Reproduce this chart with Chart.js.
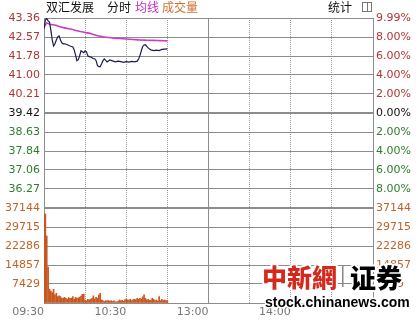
<!DOCTYPE html>
<html>
<head>
<meta charset="utf-8">
<script src="https://cdn.jsdelivr.net/npm/chart.js@4.4.0/dist/chart.umd.min.js"></script>
<style>
  html, body { margin: 0; padding: 0; background: #fff; }
</style>
</head>
<body>
<canvas id="fenshi" width="418" height="320"></canvas>
<script>
// minutes since 09:30 (trading minutes, 13:00 = 120)
var priceMinutes = [0, 1, 2, 3, 4, 5, 6, 7, 8, 9, 10, 11, 12, 13, 14, 15, 17, 19, 21, 22, 23, 24, 25, 26, 27, 28, 29, 30,
  31, 32, 33, 34, 35, 36, 37, 38, 39, 40, 41, 42, 43, 44, 45, 46, 47, 48, 50, 52, 54, 56, 58, 60, 62, 64, 66, 68,
  69, 70, 71, 72, 73, 74, 75, 76, 77, 78, 80, 82, 84, 86, 88, 90];
var prices = [42.91, 43.28, 43.34, 43.24, 43.19, 42.86, 42.45, 42.20, 42.29, 42.45, 42.58, 42.62, 42.45, 42.33, 42.29, 42.29,
  42.25, 42.20, 42.16, 42.04, 41.83, 41.59, 41.63, 41.79, 42.00, 41.96, 41.92, 42.00,
  41.96, 41.79, 41.75, 41.75, 41.71, 41.67, 41.67, 41.59, 41.38, 41.34, 41.34, 41.46, 41.59, 41.66, 41.60, 41.54, 41.58, 41.62,
  41.58, 41.54, 41.57, 41.55, 41.52, 41.55, 41.53, 41.56, 41.54, 41.57,
  41.66, 41.80, 42.00, 42.18, 42.24, 42.25, 42.18, 42.12, 42.07, 42.04, 42.01, 42.03, 42.01, 42.06, 42.07, 42.08];

var avgMinutes = [0, 1, 2, 3, 5, 8, 10, 15, 20, 25, 30, 35, 40, 45, 50, 55, 60, 65, 70, 75, 80, 85, 90];
var avgPrices = [42.99, 43.07, 43.15, 43.13, 43.09, 43.07, 43.03, 42.95, 42.89, 42.82, 42.76, 42.70, 42.61, 42.56,
  42.53, 42.51, 42.49, 42.47, 42.45, 42.44, 42.43, 42.42, 42.41];

// volume per minute, 09:30 .. 11:00
var volumes = [34200, 34800, 26200, 14000, 5400, 4700, 4100, 5400, 3200, 3800,
  2500, 2800, 2500, 1850, 1900, 2200, 1840, 1500, 2100, 1840,
  1900, 2500, 1500, 2200, 1840, 2000, 2300, 2700, 3400, 3500,
  1190, 900, 1450, 1200, 1500, 1840, 2800, 1600, 2200, 1840,
  3200, 3800, 1190, 900, 600, 900, 800, 1000, 700, 900,
  600, 800, 500, 400, 700, 1200, 900, 1000, 700, 1200,
  1500, 1200, 1100, 1450, 900, 1300, 1450, 1200, 1840, 1450,
  1840, 1600, 2400, 3200, 1840, 1200, 1450, 1000, 1190, 1840,
  1450, 900, 1200, 800, 2500, 900, 1450, 1000, 1200, 900, 900];

var timeTicks = [0, 30, 60, 90, 120, 150, 180, 210, 240];
var timeLabels = ['09:30', '', '10:30', '', '13:00', '', '14:00', '', ''];

var priceTicks = [43.36, 42.57, 41.78, 41.00, 40.21, 39.42, 38.63, 37.84, 37.06, 36.27, 35.48];
var priceLabels = ['43.36', '42.57', '41.78', '41.00', '40.21', '39.42', '38.63', '37.84', '37.06', '36.27', ''];
var pctTicks = [9.99, 8, 6, 4, 2, 0, -2, -4, -6, -8, -9.99];
var pctLabels = ['9.99%', '8.00%', '6.00%', '4.00%', '2.00%', '0.00%', '2.00%', '4.00%', '6.00%', '8.00%', ''];
var volTicks = [37144, 29715, 22286, 14857, 7429, 0];
var volLabels = ['37144', '29715', '22286', '14857', '7429', ''];

var RED = '#b03434', GREEN = '#2d7d2d', BROWN = '#c0622a', GRID = '#8c8c8c';
var tickFont = { family: 'DejaVu Sans', size: 11 };

function sideColor(i) {
  if (i < 5) return RED;
  if (i === 5) return '#111';
  return GREEN;
}

function fixedTicks(list) {
  return function(scale) {
    scale.ticks = list.map(function(v) { return { value: v }; });
  };
}

// titre en haut + filigrane en bas a droite
var decor = {
  id: 'decor',
  afterDraw: function(chart) {
    var ctx = chart.ctx;
    ctx.save();
    ctx.textBaseline = 'middle';
    ctx.font = '12px "Noto Sans CJK SC"';
    ctx.fillStyle = '#111';
    ctx.fillText('双汇发展', 46, 7);
    ctx.fillText('分时', 107, 7);
    ctx.fillStyle = '#c030c0';
    ctx.fillText('均线', 135, 7);
    ctx.fillStyle = '#d07030';
    ctx.fillText('成交量', 162, 7);
    ctx.fillStyle = '#111';
    ctx.fillText('统计', 328, 7);
    ctx.strokeStyle = '#777';
    ctx.lineWidth = 1;
    ctx.strokeRect(362.5, 2.5, 9, 9);
    ctx.beginPath();
    ctx.moveTo(367.5, 2.5);
    ctx.lineTo(367.5, 11.5);
    ctx.stroke();

    // watermark
    ctx.lineJoin = 'round';
    ctx.textBaseline = 'alphabetic';
    ctx.font = '900 25px "Noto Sans CJK TC"';
    ctx.strokeStyle = '#fff';
    ctx.lineWidth = 4;
    ctx.strokeText('中新網', 262, 287);
    ctx.fillStyle = '#d42a1e';
    ctx.fillText('中新網', 262, 287);
    ctx.fillStyle = '#888';
    ctx.fillRect(342, 265, 1.5, 22);
    ctx.font = '900 26px "Noto Sans CJK SC"';
    ctx.strokeText('证券', 350, 288);
    ctx.fillStyle = '#000';
    ctx.fillText('证券', 350, 288);
    ctx.font = 'bold 14px "Liberation Sans"';
    ctx.lineWidth = 3;
    ctx.strokeText('stock.chinanews.com', 265, 307);
    ctx.fillText('stock.chinanews.com', 265, 307);
    ctx.restore();
  }
};

var ctx = document.getElementById('fenshi').getContext('2d');
var chart = new Chart(ctx, {
  data: {
    datasets: [{
      type: 'line',
      label: '分时',
      data: priceMinutes.map(function(m, i) { return { x: m, y: prices[i] }; }),
      xAxisID: 'x',
      yAxisID: 'yP',
      borderColor: '#1c1c50',
      borderWidth: 1.2,
      pointRadius: 0,
      tension: 0
    }, {
      type: 'line',
      label: '均线',
      data: avgMinutes.map(function(m, i) { return { x: m, y: avgPrices[i] }; }),
      xAxisID: 'x',
      yAxisID: 'yP',
      borderColor: '#c83cc8',
      borderWidth: 1.6,
      pointRadius: 0,
      tension: 0.3
    }, {
      type: 'bar',
      label: '成交量',
      data: volumes.map(function(v, i) { return { x: i, y: v }; }),
      xAxisID: 'x',
      yAxisID: 'yV',
      backgroundColor: '#c8561e',
      barThickness: 1,
      grouped: false
    }]
  },
  options: {
    responsive: false,
    animation: false,
    layout: { padding: { top: 18, left: 0, right: 0, bottom: 0 } },
    plugins: { legend: { display: false }, tooltip: { enabled: false } },
    scales: {
      x: {
        type: 'linear',
        position: 'bottom',
        offset: false,
        min: 0,
        max: 240,
        afterBuildTicks: fixedTicks(timeTicks),
        afterFit: function(s) {
          s.height = 17;
          s.paddingLeft = 0;
          s.paddingRight = 0;
        },
        ticks: {
          autoSkip: false,
          maxRotation: 0,
          align: 'end',
          padding: 3,
          color: '#777',
          font: tickFont,
          callback: function(v, i) { return timeLabels[i]; }
        },
        grid: {
          offset: false,
          drawTicks: false,
          color: function(c) { return (c.tick && c.tick.value % 120 === 0) ? GRID : '#9a9a9a'; }
        },
        border: {
          color: GRID,
          dash: function(c) { return (c.tick && c.tick.value % 120 !== 0) ? [1, 1] : []; }
        }
      },
      // left side: stack order is reversed by the layout, so volume first
      yV: {
        type: 'linear',
        position: 'left',
        stack: 'left',
        stackWeight: 1,
        min: 0,
        max: 37144,
        afterBuildTicks: fixedTicks(volTicks),
        afterFit: function(s) { s.width = 44; },
        ticks: {
          autoSkip: false,
          padding: 4,
          font: tickFont,
          color: BROWN,
          callback: function(v, i) { return volLabels[i]; }
        },
        grid: {
          drawTicks: false,
          color: GRID,
          lineWidth: function(c) { return c.index === 0 ? 2 : 1; }
        },
        border: { color: GRID }
      },
      yP: {
        type: 'linear',
        position: 'left',
        stack: 'left',
        stackWeight: 2,
        min: 35.48,
        max: 43.36,
        afterBuildTicks: fixedTicks(priceTicks),
        afterFit: function(s) { s.width = 44; },
        ticks: {
          autoSkip: false,
          padding: 4,
          font: tickFont,
          color: function(c) { return sideColor(c.index); },
          callback: function(v, i) { return priceLabels[i]; }
        },
        grid: {
          drawTicks: false,
          color: GRID,
          lineWidth: function(c) { return (c.index === 5 || c.index === 10) ? 2 : 1; }
        },
        border: { color: GRID }
      },
      yPct: {
        type: 'linear',
        position: 'right',
        stack: 'right',
        stackWeight: 2,
        min: -9.99,
        max: 9.99,
        afterBuildTicks: fixedTicks(pctTicks),
        afterFit: function(s) { s.width = 45; },
        ticks: {
          autoSkip: false,
          padding: 3,
          font: tickFont,
          color: function(c) { return sideColor(c.index); },
          callback: function(v, i) { return pctLabels[i]; }
        },
        grid: { drawTicks: false, drawOnChartArea: false },
        border: { color: GRID }
      },
      yVR: {
        type: 'linear',
        position: 'right',
        stack: 'right',
        stackWeight: 1,
        min: 0,
        max: 37144,
        afterBuildTicks: fixedTicks(volTicks),
        afterFit: function(s) { s.width = 45; },
        ticks: {
          autoSkip: false,
          padding: 3,
          font: tickFont,
          color: BROWN,
          callback: function(v, i) { return volLabels[i]; }
        },
        grid: { drawTicks: false, drawOnChartArea: false },
        border: { color: GRID }
      }
    }
  },
  plugins: [decor]
});
</script>
</body>
</html>
